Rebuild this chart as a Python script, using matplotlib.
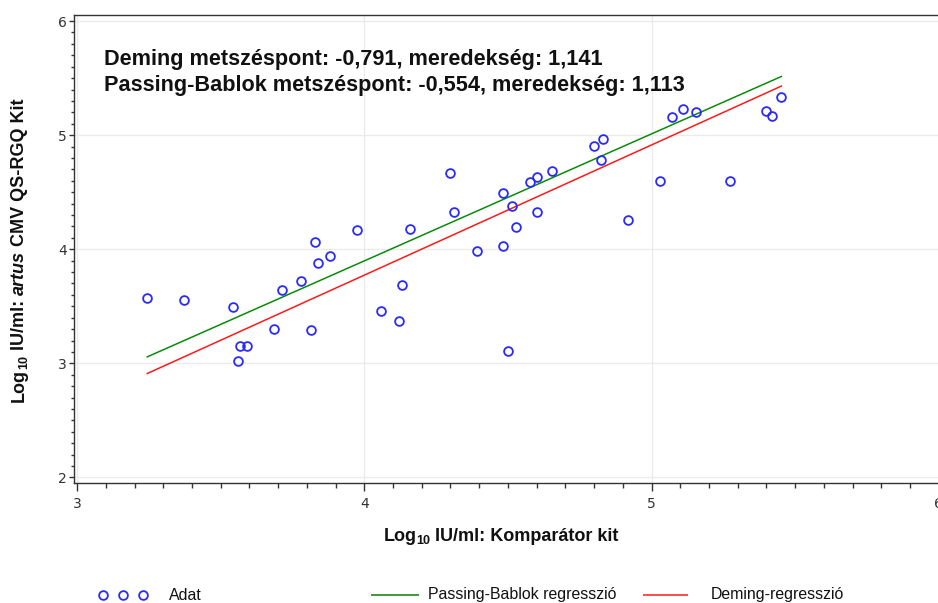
import matplotlib
matplotlib.use("Agg")
import matplotlib.pyplot as plt
from matplotlib.lines import Line2D
from matplotlib.ticker import MultipleLocator
import numpy as np

# ---- data ----
comparator = [3.244, 3.372, 3.544, 3.567, 3.591, 3.559, 3.687, 3.713, 3.779, 3.815,
              3.827, 3.839, 3.882, 3.974, 4.059, 4.120, 4.131, 4.160, 4.297, 4.312,
              4.391, 4.482, 4.482, 4.499, 4.513, 4.527, 4.577, 4.600, 4.602, 4.654,
              4.800, 4.824, 4.832, 4.918, 5.029, 5.073, 5.110, 5.154, 5.272, 5.398,
              5.421, 5.452]
artus = [3.572, 3.552, 3.491, 3.154, 3.154, 3.018, 3.298, 3.640, 3.719, 3.289,
         4.063, 3.882, 3.943, 4.171, 3.456, 3.368, 3.684, 4.180, 4.668, 4.323,
         3.987, 4.032, 4.497, 3.110, 4.383, 4.199, 4.587, 4.635, 4.323, 4.683,
         4.902, 4.786, 4.964, 4.259, 4.595, 5.159, 5.229, 5.200, 4.595, 5.211,
         5.167, 5.337]
deming_intercept, deming_slope = -0.791, 1.141
pb_intercept, pb_slope = -0.554, 1.113
x_ticks = [3, 4, 5, 6]
y_ticks = [2, 3, 4, 5, 6]
annot_lines = ["Deming metszéspont: -0,791, meredekség: 1,141",
               "Passing-Bablok metszéspont: -0,554, meredekség: 1,113"]
legend_labels = ["Adat", "Passing-Bablok regresszió", "Deming-regresszió"]

W, H = 938, 603
fig = plt.figure(figsize=(W / 100, H / 100), dpi=100)
ax_l, ax_r, ax_t, ax_b = 74, 938.7, 15, 483
ax = fig.add_axes([ax_l / W, 1 - ax_b / H, (ax_r - ax_l) / W, (ax_b - ax_t) / H])

blue = "#2a2aff"
green = "#0a8a0a"
red = "#ff1a1a"

ax.set_xlim(2.989, 6.0)
ax.set_ylim(1.951, 6.053)
ax.set_xticks(x_ticks)
ax.set_yticks(y_ticks)
ax.xaxis.set_minor_locator(MultipleLocator(0.1))
ax.yaxis.set_minor_locator(MultipleLocator(0.1))
ax.grid(True, which="major", color="#ebebeb", linewidth=1.0)
ax.set_axisbelow(True)

tick_font = ["Liberation Sans Narrow", "DejaVu Sans"]
ax.tick_params(axis="x", which="major", length=6, width=1, color="#333333", pad=4,
               labelsize=10, labelcolor="#333333")
ax.tick_params(axis="x", which="minor", length=3.6, width=1, color="#333333")
ax.tick_params(axis="y", which="major", length=3.5, width=1, color="#333333", pad=1.5,
               labelsize=10, labelcolor="#333333")
ax.tick_params(axis="y", which="minor", length=2.2, width=1, color="#333333")
for lab in ax.get_xticklabels() + ax.get_yticklabels():
    lab.set_family(tick_font)
for sp in ax.spines.values():
    sp.set_color("#333333")
    sp.set_linewidth(1.0)

xs = np.array([min(comparator), max(comparator)])
ax.plot(xs, pb_intercept + pb_slope * xs, color=green, linewidth=1.1, zorder=3)
ax.plot(xs, deming_intercept + deming_slope * xs, color=red, linewidth=1.1, zorder=3)
ax.plot(comparator, artus, linestyle="none", marker="o", markersize=6.3,
        markerfacecolor="none", markeredgecolor=blue, markeredgewidth=1.3, zorder=4)

# annotation
main_font = ["Liberation Sans", "DejaVu Sans"]
for i, line in enumerate(annot_lines):
    fig.text(104 / W, 1 - (64.5 + 26.5 * i) / H, line, fontsize=15.6, fontweight="bold",
             family=main_font, ha="left", va="baseline", color="#111111")

# rich text helper (pixel coords from top-left)
fig.canvas.draw()
renderer = fig.canvas.get_renderer()


def rich(pieces, cx, cy, vertical=False):
    objs = []
    widths = []
    for s, props, dy in pieces:
        t = fig.text(0, 0, s, ha="left", va="baseline", family=main_font,
                     color="#111111", **props)
        widths.append(t.get_window_extent(renderer).width)
        objs.append((t, dy))
    total = sum(widths)
    pos = -total / 2
    for (t, dy), w in zip(objs, widths):
        if not vertical:
            px, py = cx + pos, cy + dy
            t.set_position((px / W, 1 - py / H))
        else:
            t.set_rotation(90)
            t.set_rotation_mode("anchor")
            px, py = cx + dy, cy - pos
            t.set_position((px / W, 1 - py / H))
        pos += w


bold = dict(fontsize=13, fontweight="bold")
sub = dict(fontsize=9, fontweight="bold")
rich([("Log", bold, 0), ("10", sub, 3), (" IU/ml: Komparátor kit", bold, 0)],
     501, 541)
rich([("Log", bold, 0), ("10", sub, 3), (" IU/ml: ", bold, 0),
      ("artus", dict(fontsize=13, fontweight="bold", style="italic"), 0),
      (" CMV QS-RGQ Kit", bold, 0)],
     24, 250, vertical=True)

# legend
ly = 1 - 595 / H
fig.add_artist(Line2D([103 / W, 123 / W, 142.5 / W], [ly, ly, ly], transform=fig.transFigure,
                      linestyle="none", marker="o", markersize=6.3, markerfacecolor="none",
                      markeredgecolor=blue, markeredgewidth=1.3))
fig.add_artist(Line2D([371.5 / W, 417.5 / W], [ly, ly], transform=fig.transFigure,
                      color="#3a9a3a", linewidth=1.4))
fig.add_artist(Line2D([643.6 / W, 687.4 / W], [ly, ly], transform=fig.transFigure,
                      color="#ff4a4a", linewidth=1.4))
leg_font = ["Liberation Sans", "DejaVu Sans"]
for xpix, lab in zip([169.4, 427.6, 711], legend_labels):
    fig.text(xpix / W, ly, lab, fontsize=11.4, family=leg_font, ha="left", va="center",
             color="#111111")

fig.savefig("out.png", dpi=100)
